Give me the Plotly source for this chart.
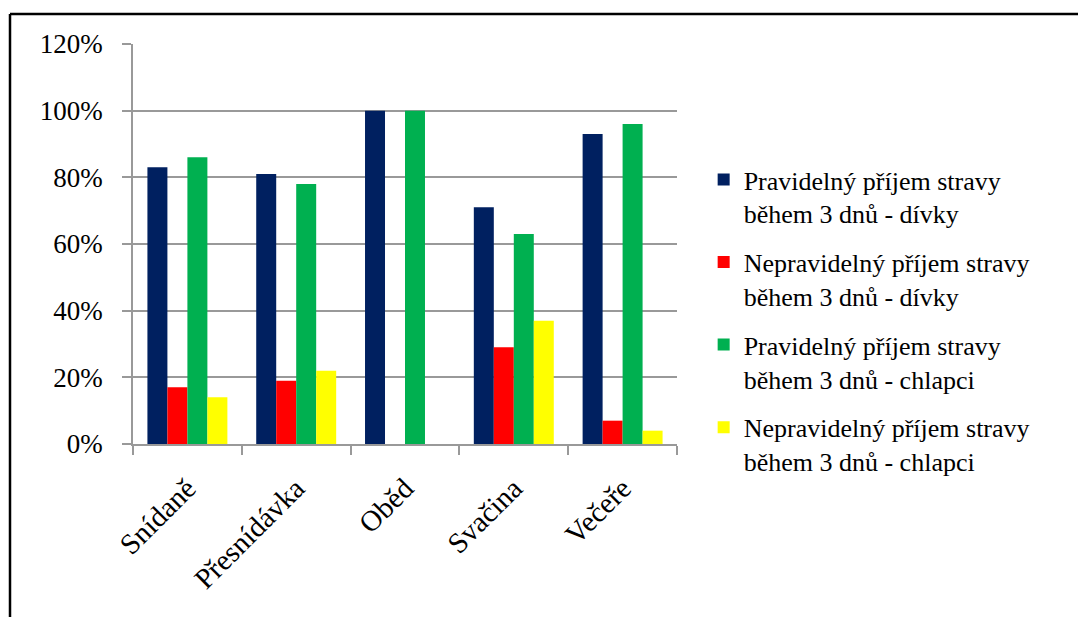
import plotly.graph_objects as go

# Meals of the day
categories = ["Snídaně", "Přesnídávka", "Oběd", "Svačina", "Večeře"]

# Share of respondents (%)
girls_regular = [83, 81, 100, 71, 93]
girls_irregular = [17, 19, 0, 29, 7]
boys_regular = [86, 78, 100, 63, 96]
boys_irregular = [14, 22, 0, 37, 4]

series_names = [
    "Pravidelný příjem stravy<br>během 3 dnů - dívky",
    "Nepravidelný příjem stravy<br>během 3 dnů - dívky",
    "Pravidelný příjem stravy<br>během 3 dnů - chlapci",
    "Nepravidelný příjem stravy<br>během 3 dnů - chlapci",
]
series_values = [girls_regular, girls_irregular, boys_regular, boys_irregular]
series_colors = ["#002060", "#FF0000", "#00B050", "#FFFF00"]

FONT = "Liberation Serif"

fig = go.Figure()
for i, (name, vals, color) in enumerate(zip(series_names, series_values, series_colors)):
    fig.add_trace(go.Bar(
        x=categories,
        y=vals,
        name=name,
        legendgroup=f"g{i}",
        marker=dict(color=color, line=dict(width=0)),
    ))

fig.update_layout(
    width=1078,
    height=617,
    margin=dict(l=133, r=401, t=44, b=173, autoexpand=False),
    paper_bgcolor="white",
    plot_bgcolor="white",
    barmode="group",
    bargap=0.265,
    bargroupgap=0,
    font=dict(family=FONT, size=27, color="black"),
    legend=dict(
        x=1.049,
        y=0.72,
        xanchor="left",
        yanchor="top",
        valign="top",
        font=dict(family=FONT, size=26, color="black"),
        itemwidth=30,
        tracegroupgap=12,
        bgcolor="rgba(0,0,0,0)",
    ),
    showlegend=True,
)

fig.update_xaxes(
    type="category",
    showline=True,
    linecolor="#999999",
    linewidth=1.5,
    ticks="outside",
    tickson="boundaries",
    ticklen=9,
    tickcolor="#999999",
    tickwidth=1.5,
    tickangle=-45,
    ticklabelstandoff=14,
    showgrid=False,
    tickfont=dict(family=FONT, size=29, color="black"),
)

fig.update_yaxes(
    range=[0, 120],
    dtick=20,
    ticksuffix="%",
    showline=True,
    linecolor="#999999",
    linewidth=1.5,
    ticks="outside",
    ticklen=9,
    tickcolor="#999999",
    tickwidth=1.5,
    showgrid=True,
    gridcolor="#999999",
    gridwidth=1.5,
    zeroline=False,
    ticklabelstandoff=14,
    tickfont=dict(family=FONT, size=27, color="black"),
)

# Outer frame: top and left border lines
fig.add_shape(type="line", xref="paper", yref="paper",
              x0=(10 - 133) / 544, x1=(1078 - 133) / 544,
              y0=1 + 30 / 400, y1=1 + 30 / 400,
              line=dict(color="black", width=2.5))
fig.add_shape(type="line", xref="paper", yref="paper",
              x0=(10 - 133) / 544, x1=(10 - 133) / 544,
              y0=1 + 30 / 400, y1=-0.5,
              line=dict(color="black", width=2.5))

fig.write_html("out.html")
